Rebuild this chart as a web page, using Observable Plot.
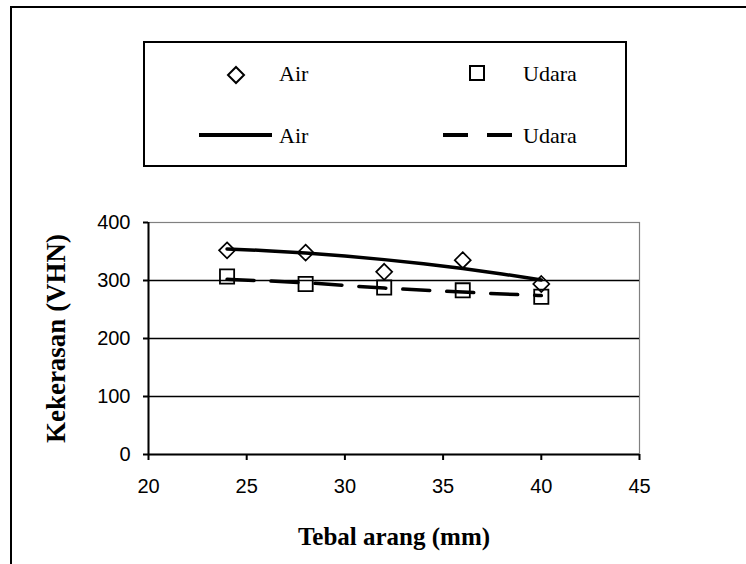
<!DOCTYPE html>
<html>
<head>
<meta charset="utf-8">
<script src="https://cdn.jsdelivr.net/npm/d3@7"></script>
<script src="https://cdn.jsdelivr.net/npm/@observablehq/plot@0.6"></script>
<style>
  html, body { margin: 0; padding: 0; background: #fff; }
  #page { position: relative; width: 746px; height: 564px; overflow: hidden; background: #fff; }
  #outer { position: absolute; left: 10px; top: 6px; width: 800px; height: 700px; border: 2px solid #000; box-sizing: border-box; }
  #chart { position: absolute; left: 0; top: 0; }
  #legend { position: absolute; left: 143px; top: 41px; width: 484px; height: 126px; border: 2px solid #000; box-sizing: border-box; background: #fff; }
  #legend svg { position: absolute; left: -2px; top: -2px; overflow: visible; }
</style>
</head>
<body>
<div id="page">
  <div id="outer"></div>
  <div id="chart"></div>
  <div id="legend"></div>
</div>
<script>
// ---- data ----
const thickness = [24, 28, 32, 36, 40];            // Tebal arang (mm)
const airValues = [352, 348, 315, 335, 294];        // Air (markers)
const udaraValues = [307, 294, 288, 283, 272];      // Udara (markers)
const airTrendX = [24, 26, 28, 30, 32, 34, 36, 38, 40];
const airTrendY = [354.5, 351.4, 347.3, 342.2, 336, 328.8, 320.6, 311.3, 301];
const udaraTrendX = [24, 28, 32, 36, 40];
const udaraTrendY = [302, 296, 287, 280, 274];
const xTicks = [20, 25, 30, 35, 40, 45];
const yTicks = [0, 100, 200, 300, 400];
const gridValues = [100, 200, 300];
const seriesNames = ["Air", "Udara"];
const xLabel = "Tebal arang (mm)";
const yLabel = "Kekerasan (VHN)";

const airRows = thickness.map((x, i) => ({x, y: airValues[i]}));
const udaraRows = thickness.map((x, i) => ({x, y: udaraValues[i]}));
const airTrend = airTrendX.map((x, i) => ({x, y: airTrendY[i]}));
const udaraTrend = udaraTrendX.map((x, i) => ({x, y: udaraTrendY[i]}));

const serif = "'Liberation Serif', 'Times New Roman', serif";
const sans = "'Liberation Sans', Arial, sans-serif";

const chart = Plot.plot({
  width: 746,
  height: 564,
  marginLeft: 148,
  marginRight: 107,
  marginTop: 222,
  marginBottom: 110,
  style: {fontFamily: sans, fontSize: "20px", background: "transparent", color: "#000"},
  x: {domain: [20, 45]},
  y: {domain: [0, 400]},
  marks: [
    Plot.frame({stroke: "#808080", strokeWidth: 1.2}),
    Plot.ruleY(gridValues, {stroke: "#000", strokeWidth: 1.6}),
    Plot.ruleX([20], {stroke: "#000", strokeWidth: 2}),
    Plot.ruleY([0], {stroke: "#000", strokeWidth: 2}),
    Plot.axisX({ticks: xTicks, tickSize: 6, tickPadding: 18, strokeWidth: 2, label: null, fontSize: 20, fontFamily: sans}),
    Plot.axisY({ticks: yTicks, tickSize: 5, tickPadding: 13, strokeWidth: 2, label: null, fontSize: 20, fontFamily: sans}),
    Plot.dot(airRows, {x: "x", y: "y", symbol: "diamond2", r: 7.2, stroke: "#000", strokeWidth: 1.7, fill: "none"}),
    Plot.dot(udaraRows, {x: "x", y: "y", symbol: "square", r: 8, stroke: "#000", strokeWidth: 1.8, fill: "none"}),
    Plot.line(airTrend, {x: "x", y: "y", stroke: "#000", strokeWidth: 3.5, curve: "monotone-x"}),
    Plot.line(udaraTrend, {x: "x", y: "y", stroke: "#000", strokeWidth: 3.5, strokeDasharray: "27,17", curve: "monotone-x"}),
    Plot.text([yLabel], {text: d => d, frameAnchor: "left", textAnchor: "middle", lineAnchor: "middle", dx: -92, rotate: -90, fontFamily: serif, fontWeight: "bold", fontSize: 27}),
    Plot.text([xLabel], {text: d => d, frameAnchor: "bottom", textAnchor: "middle", lineAnchor: "middle", dy: 82, fontFamily: serif, fontWeight: "bold", fontSize: 25})
  ]
});
document.getElementById("chart").appendChild(chart);

// ---- legend (HTML overlay box with small svg swatches) ----
const lg = d3.select("#legend").append("svg").attr("width", 484).attr("height", 126);
// marker row
lg.append("path").attr("d", "M93,26 L101,34 L93,42 L85,34 Z").attr("fill", "none").attr("stroke", "#000").attr("stroke-width", 2);
lg.append("rect").attr("x", 327).attr("y", 25).attr("width", 14).attr("height", 14).attr("fill", "none").attr("stroke", "#000").attr("stroke-width", 2);
// line row
lg.append("line").attr("x1", 56).attr("x2", 129).attr("y1", 94).attr("y2", 94).attr("stroke", "#000").attr("stroke-width", 4);
lg.append("line").attr("x1", 300).attr("x2", 371).attr("y1", 94).attr("y2", 94).attr("stroke", "#000").attr("stroke-width", 4).attr("stroke-dasharray", "25,19");
const texts = [
  {t: seriesNames[0], x: 136, y: 40},
  {t: seriesNames[1], x: 380, y: 40},
  {t: seriesNames[0], x: 136, y: 102},
  {t: seriesNames[1], x: 380, y: 102}
];
lg.selectAll("text.lbl").data(texts).join("text")
  .attr("class", "lbl")
  .attr("x", d => d.x).attr("y", d => d.y)
  .attr("font-family", serif).attr("font-size", 22)
  .text(d => d.t);
</script>
</body>
</html>
